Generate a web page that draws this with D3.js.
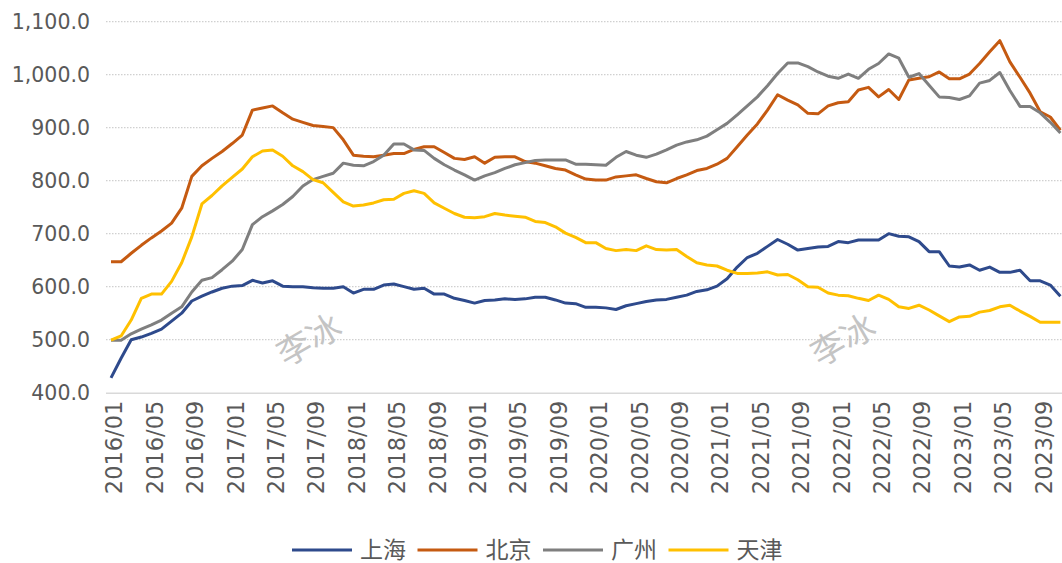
<!DOCTYPE html>
<html>
<head>
<meta charset="utf-8">
<script src="https://cdn.jsdelivr.net/npm/d3@7"></script>
<style>
  body { margin: 0; background: #fff; }
  svg { display: block; }
</style>
</head>
<body>
<svg width="1062" height="563"></svg>
<script>
// monthly categories 2016/01 .. 2023/11
var months = d3.timeMonths(new Date(2016, 0, 1), new Date(2023, 11, 1)).map(d3.timeFormat("%Y/%m"));

var seriesNames = ["上海", "北京", "广州", "天津"];
var seriesColors = ["#2e4a8c", "#c55a11", "#7f7f7f", "#ffc000"];

var shanghai = [428, 465, 500, 505, 512, 520, 535, 550, 573, 582, 590, 597, 601, 602, 612, 607,
  611, 601, 600, 600, 598, 597, 597, 600, 588, 595, 595, 603, 605, 600, 595, 597,
  586, 586, 578, 574, 569, 574, 575, 577, 576, 577, 580, 580, 575, 569, 568, 561,
  561, 560, 557, 564, 568, 572, 575, 576, 580, 584, 591, 594, 601, 615, 637, 655,
  663, 676, 689, 680, 669, 672, 675, 676, 685, 683, 688, 688, 688, 700, 695, 694,
  685, 666, 666, 639, 637, 641, 631, 637, 627, 627, 631, 611, 611, 603, 582];

var beijing = [647, 647, 663, 678, 692, 705, 720, 748, 808, 828, 842, 855, 870, 886, 933, 937,
  941, 928, 916, 910, 904, 902, 900, 877, 848, 846, 845, 848, 851, 851, 859, 864,
  864, 853, 842, 840, 845, 833, 844, 845, 845, 836, 833, 828, 823, 820, 811, 803,
  801, 801, 807, 809, 811, 804, 798, 796, 804, 811, 819, 823, 831, 842, 864, 886,
  907, 933, 962, 952, 943, 927, 926, 941, 947, 949, 971, 976, 958, 972, 953, 990,
  993, 996, 1005, 992, 992, 1001, 1021, 1043, 1064, 1024, 995, 965, 930, 920, 895];

var guangzhou = [499, 499, 511, 520, 528, 537, 550, 562, 590, 612, 617, 632, 648, 670, 717, 732,
  743, 755, 770, 790, 802, 808, 814, 833, 829, 828, 836, 848, 869, 869, 858, 857,
  842, 830, 820, 811, 801, 809, 815, 823, 830, 834, 838, 839, 839, 839, 831, 831,
  830, 829, 844, 855, 848, 844, 850, 858, 867, 873, 877, 884, 896, 908, 924, 941,
  958, 979, 1002, 1022, 1022, 1015, 1005, 997, 993, 1001, 993, 1010, 1021, 1039, 1031, 995,
  1002, 980, 958, 957, 953, 960, 984, 989, 1004, 970, 940, 940, 928, 910, 890];

var tianjin = [499, 507, 537, 578, 586, 586, 610, 645, 694, 756, 772, 790, 806, 822, 845, 856,
  858, 846, 828, 817, 802, 796, 778, 760, 752, 754, 758, 764, 765, 776, 781, 776,
  758, 748, 738, 731, 730, 732, 738, 735, 733, 731, 723, 721, 713, 701, 693, 683,
  683, 672, 668, 670, 668, 677, 670, 669, 670, 657, 645, 641, 639, 631, 625, 625,
  626, 628, 622, 623, 613, 600, 599, 588, 584, 583, 578, 574, 584, 576, 562, 559,
  565, 556, 545, 534, 543, 544, 552, 555, 562, 565, 554, 544, 533, 533, 533];

var yTicks = [400, 500, 600, 700, 800, 900, 1000, 1100];
var watermark = "李冰";

var svg = d3.select("svg"),
    width = +svg.attr("width");

var xScale = d3.scalePoint().domain(months).range([111, 111 + 10.1 * (months.length - 1)]),
    yScale = d3.scaleLinear().domain([400, 1100]).range([392.7, 21.6]);

// grid lines
svg.append("g")
  .selectAll("line")
  .data(yTicks.slice(1))
  .enter().append("line")
  .attr("x1", 106).attr("x2", width)
  .attr("y1", function(d) { return yScale(d); })
  .attr("y2", function(d) { return yScale(d); })
  .attr("stroke", "#d0d0d0")
  .attr("stroke-width", 1.2)
  .attr("stroke-dasharray", "1.5,1.5");

// y axis
var yAxis = svg.append("g")
  .attr("transform", "translate(90,0)")
  .call(d3.axisLeft(yScale).tickValues(yTicks).tickFormat(d3.format(",.1f")).tickSize(0).tickPadding(0));
yAxis.select(".domain").remove();
yAxis.selectAll("text")
  .attr("font-family", "DejaVu Sans, sans-serif")
  .attr("font-size", 20.5)
  .attr("fill", "#595959");

// x axis
var xAxis = svg.append("g")
  .attr("transform", "translate(0," + yScale(400) + ")")
  .call(d3.axisBottom(xScale).tickValues(months.filter(function(d, i) { return i % 4 === 0; })).tickSize(0));
xAxis.select(".domain")
  .attr("d", "M106,0.5H" + width)
  .attr("stroke", "#d9d9d9")
  .attr("stroke-width", 1.5);
xAxis.selectAll("text")
  .attr("font-family", "DejaVu Sans, sans-serif")
  .attr("font-size", 22.5)
  .attr("fill", "#595959")
  .attr("text-anchor", "end")
  .attr("y", 0)
  .attr("dy", "0.35em")
  .attr("transform", "translate(3,8) rotate(-90)");

// watermarks
[[308, 338], [842, 338]].forEach(function(p) {
  svg.append("text")
    .attr("transform", "translate(" + p[0] + "," + p[1] + ") rotate(-30)")
    .attr("text-anchor", "middle")
    .attr("dominant-baseline", "central")
    .attr("font-family", "Noto Sans CJK SC")
    .attr("font-size", 34)
    .attr("fill", "#c4c4c4")
    .text(watermark);
});

// lines
var allSeries = [shanghai, beijing, guangzhou, tianjin];
var line = d3.line()
  .x(function(d, i) { return xScale(months[i]); })
  .y(function(d) { return yScale(d); });

svg.append("g")
  .selectAll("path")
  .data(allSeries)
  .enter().append("path")
  .attr("d", line)
  .attr("fill", "none")
  .attr("stroke", function(d, i) { return seriesColors[i]; })
  .attr("stroke-width", 3)
  .attr("stroke-linejoin", "round");

// legend
var legend = svg.append("g")
  .selectAll("g")
  .data(seriesNames)
  .enter().append("g")
  .attr("transform", function(d, i) { return "translate(" + (292 + i * 125.5) + ",550)"; });

legend.append("line")
  .attr("x1", 0).attr("x2", 60)
  .attr("stroke", function(d, i) { return seriesColors[i]; })
  .attr("stroke-width", 3);

legend.append("text")
  .attr("x", 68)
  .attr("dy", "0.35em")
  .attr("font-family", "Noto Sans CJK SC")
  .attr("font-size", 23)
  .attr("fill", "#595959")
  .text(function(d) { return d; });
</script>
</body>
</html>
